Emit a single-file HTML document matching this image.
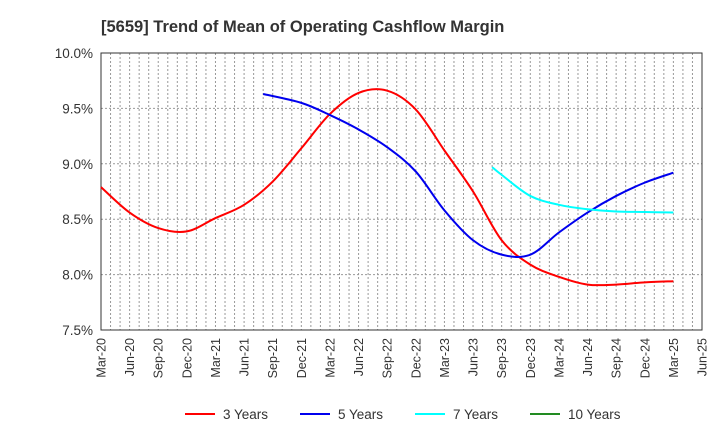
<!DOCTYPE html>
<html><head><meta charset="utf-8"><style>
body{margin:0;background:#fff;font-family:"Liberation Sans",sans-serif;}
</style></head><body>
<svg id="chart" width="720" height="440" xmlns="http://www.w3.org/2000/svg" font-family="Liberation Sans, sans-serif">
<text x="101" y="32" font-size="16.5" font-weight="bold" fill="#333">[5659]  Trend of Mean of Operating Cashflow Margin</text>
<g id="grid"></g><g id="axes"></g><g id="series"></g><g id="legend"></g>
</svg>
<script>
const xLabels=["Mar-20","Jun-20","Sep-20","Dec-20","Mar-21","Jun-21","Sep-21","Dec-21","Mar-22","Jun-22","Sep-22","Dec-22","Mar-23","Jun-23","Sep-23","Dec-23","Mar-24","Jun-24","Sep-24","Dec-24","Mar-25","Jun-25"];
const yTicks=[7.5,8.0,8.5,9.0,9.5,10.0];
const months3=[0,3,6,9,12,15,18,21,24,27,30,33,36,39,42,45,48,51,54,57,60];
const vals3=[8.79,8.56,8.42,8.39,8.51,8.63,8.84,9.14,9.45,9.64,9.66,9.49,9.12,8.75,8.31,8.09,7.98,7.91,7.91,7.93,7.94];
const months5=[17,21,24,27,30,33,36,39,42,45,48,51,54,57,60];
const vals5=[9.63,9.55,9.44,9.31,9.15,8.93,8.58,8.31,8.18,8.18,8.38,8.56,8.71,8.83,8.92];
const months7=[41,42,45,48,51,54,57,60];
const vals7=[8.97,8.90,8.71,8.63,8.59,8.57,8.565,8.56];
const months10=[];
const vals10=[];
const L=101,R=702,T=53,B=330;
const x=m=>L+m*(R-L)/63;
const y=v=>T+(10-v)/2.5*(B-T);
const NS="http://www.w3.org/2000/svg";
function mk(tag,attrs,parent){const e=document.createElementNS(NS,tag);for(const k in attrs)e.setAttribute(k,attrs[k]);parent.appendChild(e);return e;}
const grid=document.getElementById('grid'),axes=document.getElementById('axes'),series=document.getElementById('series'),legend=document.getElementById('legend');
for(let m=1;m<63;m++){const g=mk('line',{x1:x(m),x2:x(m),y1:T,y2:B,stroke:'#999','stroke-width':1,'stroke-dasharray':'2,2'},grid);

}
yTicks.forEach(v=>{if(v>7.5&&v<10){const g=mk('line',{x1:L,x2:R,y1:y(v),y2:y(v),stroke:'#999','stroke-width':1,'stroke-dasharray':'2,2'},grid);

}
const t=mk('text',{x:L-8,y:y(v)+5,'text-anchor':'end','font-size':13.5,fill:'#333'},axes);t.textContent=v.toFixed(1)+'%';

});
const fr=mk('rect',{x:L,y:T,width:R-L,height:B-T,fill:'none',stroke:'#333','stroke-width':1},axes);


xLabels.forEach((s,i)=>{const xx=x(i*3);const t=mk('text',{x:0,y:0,'text-anchor':'end','font-size':12.5,fill:'#333',transform:`translate(${xx+4.5},338) rotate(-90)`},axes);t.textContent=s;

});
function path(ms,vs){const p=ms.map((m,i)=>[x(m),y(vs[i])]);if(p.length<2)return '';let d=`M${p[0][0]},${p[0][1]}`;
for(let i=0;i<p.length-1;i++){const p0=p[i-1]||p[i],p1=p[i],p2=p[i+1],p3=p[i+2]||p2;
d+=` C${p1[0]+(p2[0]-p0[0])/6},${p1[1]+(p2[1]-p0[1])/6} ${p2[0]-(p3[0]-p1[0])/6},${p2[1]-(p3[1]-p1[1])/6} ${p2[0]},${p2[1]}`;}return d;}
const defs=[["3 Years","#ff0000",months3,vals3,"series-3-years"],["5 Years","#0000ee",months5,vals5,"series-5-years"],["7 Years","#00ffff",months7,vals7,"series-7-years"],["10 Years","#228b22",months10,vals10,"series-10-years"]];
const lx=[185,300,415,530];
defs.forEach((d,i)=>{const pd=path(d[2],d[3]);if(pd){const e=mk('path',{d:pd,fill:'none',stroke:d[1],'stroke-width':2},series);

}
const g=mk('g',{},legend);


mk('line',{x1:lx[i],x2:lx[i]+30,y1:414,y2:414,stroke:d[1],'stroke-width':2},g);
const t=mk('text',{x:lx[i]+38,y:419,'font-size':13.5,fill:'#333'},g);t.textContent=d[0];});
</script>
</body></html>
